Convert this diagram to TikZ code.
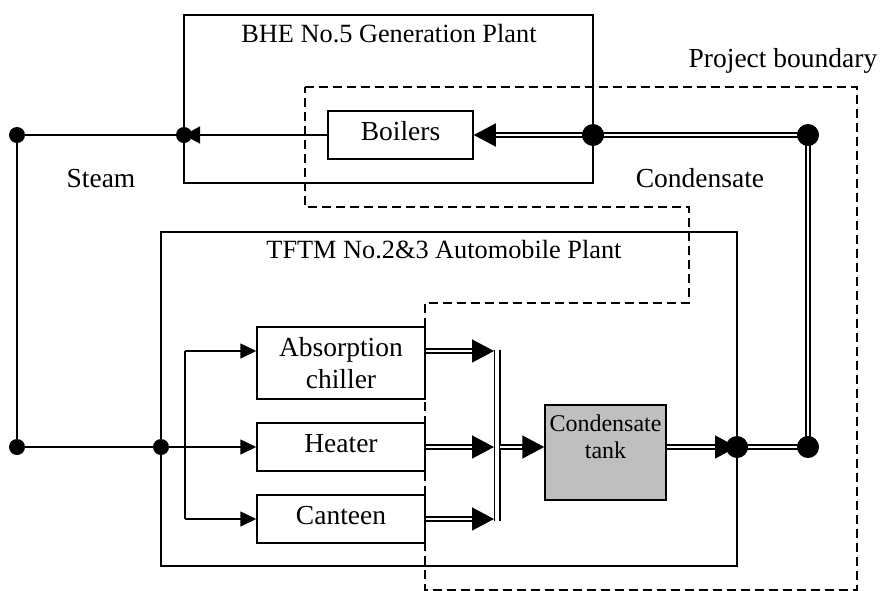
\documentclass[tikz,border=0pt]{standalone}
\usepackage{fontspec}
\setmainfont{Liberation Serif}
\usetikzlibrary{arrows.meta,calc}
\newcommand\dblarr[2]{%
  \draw[dbl, shorten >=19pt] (#1) -- (#2);
  \draw[dtip] ($(#2)!22pt!(#1)$) -- (#2);}
\begin{document}
\begin{tikzpicture}[x=1pt,y=-1pt,
  frame/.style={draw, line width=1.5pt, rectangle, inner sep=0pt},
  unit/.style={draw, line width=1.5pt, rectangle, inner sep=0pt, font=\fontsize{27.5}{32}\selectfont, align=center},
  oneline/.style={text height=17pt, text depth=7pt},
  tankbox/.style={draw, line width=1.5pt, rectangle, fill=black!25, inner sep=0pt},
  tanklab/.style={inner sep=0pt, font=\fontsize{24}{27}\selectfont, align=center},
  lab/.style={inner sep=0pt, anchor=base, font=\fontsize{27.5}{32}\selectfont},
  titlelab/.style={inner sep=0pt, anchor=base, font=\fontsize{26.3}{30}\selectfont},
  ln/.style={draw, line width=1.5pt},
  sarr/.style={-{Triangle[length=16pt,width=15pt]}},
  dbl/.style={draw, line width=1.5pt, double=white, double distance=2.5pt},
  dtip/.style={line width=1.5pt, -{Triangle[length=22pt,width=23pt]}},
  bound/.style={draw, line width=2pt, dash pattern=on 9pt off 5pt},
  sdot/.style={circle, fill=black, inner sep=0pt, minimum size=16pt},
  bdot/.style={circle, fill=black, inner sep=0pt, minimum size=22pt}]
\useasboundingbox (0,0) rectangle (880,590);

% frames
\node[frame, minimum width=409pt, minimum height=168pt] (bhe) at (388.5,99) {};
\node[frame, minimum width=576pt, minimum height=334pt] (tftm) at (449,399) {};
\node[titlelab] (bhet) at (389,42) {BHE No.5 Generation Plant};
\node[titlelab] (tftmt) at (444,258) {TFTM No.2\&3 Automobile Plant};

% units
\node[unit, oneline, minimum width=145pt, minimum height=48pt] (boil) at (400.5,135) {Boilers};
\node[unit, minimum width=168pt, minimum height=72pt] (abs) at (341,363) {Absorption\\chiller};
\node[unit, oneline, minimum width=168pt, minimum height=48pt] (heat) at (341,447) {Heater};
\node[unit, oneline, minimum width=168pt, minimum height=48pt] (can) at (341,519) {Canteen};
\node[tankbox, minimum width=121pt, minimum height=95pt] (tank) at (605.5,452.5) {};
\node[tanklab, anchor=north] (tanktxt) at (605.5,414.5) {Condensate\\tank};

% labels
\node[lab] (steam) at (101,187) {Steam};
\node[lab] (cond) at (700,187) {Condensate};
\node[lab] (pb) at (783,67) {Project boundary};

% junction points
\coordinate (j1) at (17,135);
\coordinate (j2) at (184,135);
\coordinate (j3) at (17,447);
\coordinate (j4) at (161,447);
\coordinate (c1) at (593,135);
\coordinate (c2) at (808,135);
\coordinate (c3) at (737,447);
\coordinate (c4) at (808,447);
\coordinate (dtop) at (185,351);
\coordinate (dbot) at (185,519);
\coordinate (coltop) at (497,350);
\coordinate (colbot) at (497,521);
\coordinate (cin1) at (494,351);
\coordinate (cin2) at (494,447);
\coordinate (cin3) at (494,519);
\coordinate (cout) at (500,447);
\coordinate (aout) at (abs.east |- cin1);
\coordinate (hout) at (heat.east |- cin2);
\coordinate (kout) at (can.east |- cin3);
\coordinate (tin) at (tank.west |- cout);
\coordinate (tout) at (tank.east |- c3);

% steam lines
\draw[ln] (j1) -- (j3);
\draw[ln] (j1) -- (j2);
\draw[ln, -{Triangle[length=16pt,width=17pt]}] (boil.west) -- (j2);
\draw[ln] (j3) -- (j4);
\draw[ln, sarr] (j4) -- (heat.west);
\draw[ln] (dtop) -- (dbot);
\draw[ln, sarr] (dtop) -- (dtop -| abs.west);
\draw[ln, sarr] (dbot) -- (can.west);

% condensate lines
\draw[dbl] (c3) -- (c4) -- (c2) -- (c1);
\dblarr{c1}{boil.east}
\dblarr{aout}{cin1}
\dblarr{hout}{cin2}
\dblarr{kout}{cin3}
\draw[dbl, double distance=4pt] (coltop) -- (colbot);
\dblarr{cout}{tin}
\dblarr{tout}{c3}

% project boundary
\draw[bound] (305,87) -- (857,87) -- (857,590) -- (425,590) -- (425,303) -- (689,303) -- (689,207) -- (305,207) -- cycle;

% dots
\node[sdot] (d1) at (j1) {};
\node[sdot] (d2) at (j2) {};
\node[sdot] (d3) at (j3) {};
\node[sdot] (d4) at (j4) {};
\node[bdot] (d5) at (c1) {};
\node[bdot] (d6) at (c2) {};
\node[bdot] (d7) at (c3) {};
\node[bdot] (d8) at (c4) {};
\end{tikzpicture}
\end{document}
